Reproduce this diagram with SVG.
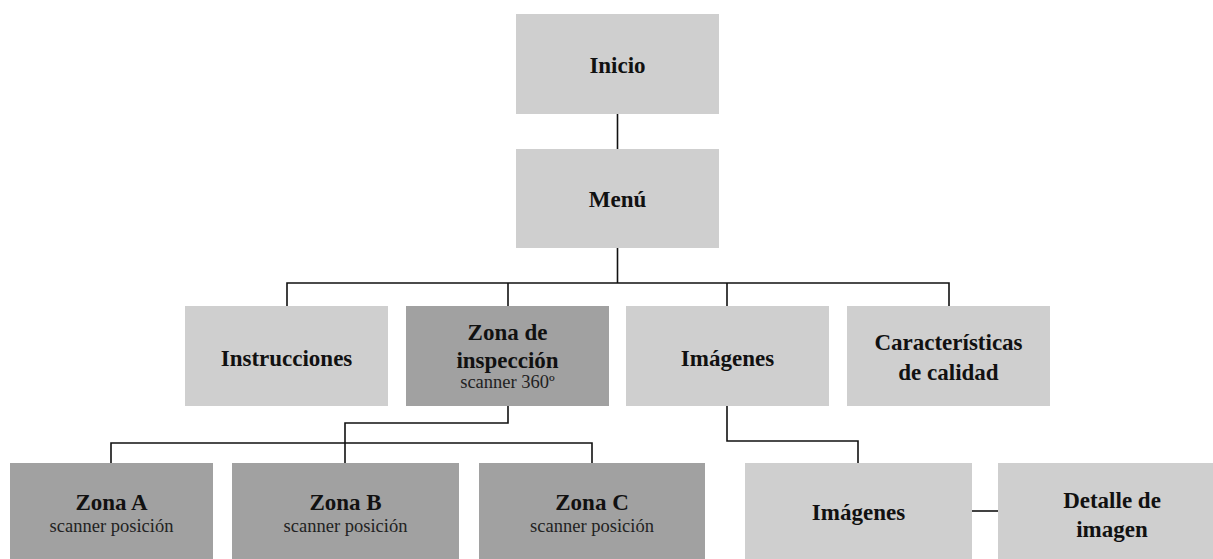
<svg xmlns="http://www.w3.org/2000/svg" width="1213" height="559" viewBox="0 0 1213 559">
<style>
.l{fill:#cfcfcf}
.d{fill:#a1a1a1}
.t{font-family:"Liberation Serif","Times New Roman",serif;font-weight:bold;font-size:23px;fill:#111;text-anchor:middle}
.s{font-family:"Liberation Serif","Times New Roman",serif;font-size:18.5px;fill:#222;text-anchor:middle}
.c{fill:none;stroke:#111;stroke-width:1.6}
</style>
<rect width="1213" height="559" fill="#fff"/>
<g id="connectors">
<path class="c" d="M617.5 114V149"/>
<path class="c" d="M617.5 248V283"/>
<path class="c" d="M287 306V283H949V306"/>
<path class="c" d="M508 283V306"/>
<path class="c" d="M727 283V306"/>
<path class="c" d="M508 406V423H345V463"/>
<path class="c" d="M111 463V443H592V463"/>
<path class="c" d="M727 406V441H858V463"/>
<path class="c" d="M972 511H998"/>
</g>
<g id="inicio"><rect class="l" x="516" y="14" width="203" height="100"/><text class="t" x="617.5" y="73">Inicio</text></g>
<g id="menu"><rect class="l" x="516" y="149" width="203" height="99"/><text class="t" x="617.5" y="207">Menú</text></g>
<g id="instrucciones"><rect class="l" x="185" y="306" width="203" height="100"/><text class="t" x="286.5" y="366">Instrucciones</text></g>
<g id="zona-inspeccion"><rect class="d" x="406" y="306" width="203" height="100"/><text class="t" x="507.5" y="340">Zona de</text><text class="t" x="507.5" y="368">inspección</text><text class="s" x="507.5" y="388">scanner 360º</text></g>
<g id="imagenes"><rect class="l" x="626" y="306" width="203" height="100"/><text class="t" x="727.5" y="366">Imágenes</text></g>
<g id="caracteristicas"><rect class="l" x="847" y="306" width="203" height="100"/><text class="t" x="948.5" y="350">Características</text><text class="t" x="948.5" y="380">de calidad</text></g>
<g id="zona-a"><rect class="d" x="10" y="463" width="203" height="100"/><text class="t" x="111.5" y="510">Zona A</text><text class="s" x="111.5" y="532">scanner posición</text></g>
<g id="zona-b"><rect class="d" x="232" y="463" width="227" height="100"/><text class="t" x="345.5" y="510">Zona B</text><text class="s" x="345.5" y="532">scanner posición</text></g>
<g id="zona-c"><rect class="d" x="479" y="463" width="226" height="100"/><text class="t" x="592" y="510">Zona C</text><text class="s" x="592" y="532">scanner posición</text></g>
<g id="imagenes-2"><rect class="l" x="745" y="463" width="227" height="100"/><text class="t" x="858.5" y="520">Imágenes</text></g>
<g id="detalle"><rect class="l" x="998" y="463" width="228" height="100"/><text class="t" x="1112" y="508">Detalle de</text><text class="t" x="1112" y="537">imagen</text></g>
</svg>
